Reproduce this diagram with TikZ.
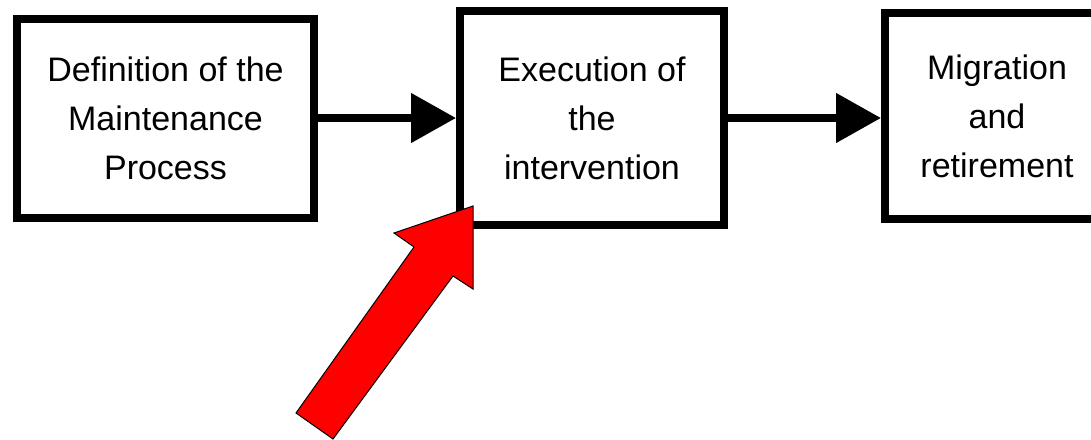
\documentclass[tikz,border=0pt]{standalone}
\usepackage{fontspec}
\setmainfont{Liberation Sans}
\usetikzlibrary{arrows.meta}
\begin{document}
\begin{tikzpicture}[x=1pt,y=-1pt,
  stage/.style={draw=black, line width=8pt, fill=white, align=center,
    inner sep=0pt, font=\fontsize{34}{49}\selectfont},
  flow/.style={line width=8pt, -{Triangle[length=45pt,width=48pt]}},
  pointer/.style={fill=red, draw=black, line width=1pt, line join=miter}]
\useasboundingbox (0,0) rectangle (1091,439);
\clip (0,0) rectangle (1091,439);

% process stages
\node[stage, minimum width=297pt, minimum height=199pt] (def) at (165.5,118)
  {Definition of the\\Maintenance\\Process};
\node[stage, minimum width=264pt, minimum height=214pt] (exe) at (592,118)
  {Execution of\\the\\intervention};
\node[stage, minimum width=224pt, minimum height=206pt] (mig) at (997,116)
  {Migration\\and\\retirement};

% flow between stages
\draw[flow] (def.east) -- (def.east -| exe.west);
\draw[flow] (exe.east) -- (exe.east -| mig.west);

% block arrow pointing at the execution stage
\coordinate (tip) at (473,206);
\coordinate (rbarb) at (473,289);
\coordinate (rneck) at (453,276);
\coordinate (rfoot) at (333,439);
\coordinate (lfoot) at (296,413);
\coordinate (lneck) at (414,247);
\coordinate (lbarb) at (394,233);
\draw[pointer] (tip) -- (rbarb) -- (rneck) -- (rfoot) -- (lfoot) -- (lneck) -- (lbarb) -- cycle;
\end{tikzpicture}
\end{document}
